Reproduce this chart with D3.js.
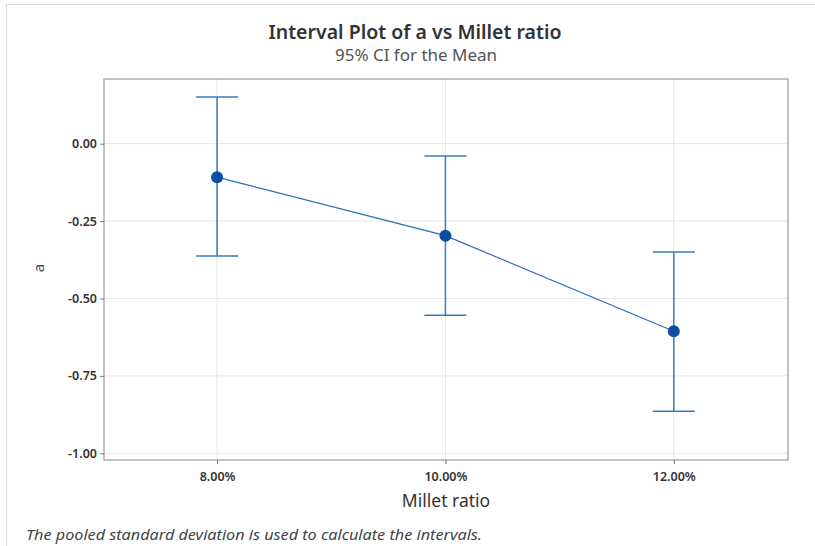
<!DOCTYPE html>
<html><head><meta charset="utf-8">
<script src="https://cdn.jsdelivr.net/npm/d3@7"></script>
<style>body{margin:0;background:#fff}svg{display:block}</style>
</head><body>
<script>
const categories = [8, 10, 12];
const categoryLabels = ["8.00%", "10.00%", "12.00%"];
const means = [-0.108, -0.297, -0.606];
const upper = [0.151, -0.040, -0.350];
const lower = [-0.363, -0.554, -0.864];
const yTicks = [0, -0.25, -0.5, -0.75, -1.0];

const W = 815, H = 546;
const font = "'Noto Sans', 'Open Sans', sans-serif";
const svg = d3.select("body").append("svg").attr("width", W).attr("height", H);

// outer border
svg.append("rect").attr("x", 6.5).attr("y", 4.5).attr("width", W + 10).attr("height", H + 10)
  .attr("fill", "none").attr("stroke", "#dcdcdc");

const L = 104, R = 788, T = 79, B = 460;
const x = d3.scaleLinear().domain([7.01, 13.0]).range([L, R]);
const y = d3.scaleLinear().domain([-1.0217, 0.209]).range([B, T]);

// gridlines
svg.append("g").selectAll("line").data(yTicks).join("line")
  .attr("x1", L).attr("x2", R).attr("y1", d => y(d)).attr("y2", d => y(d))
  .attr("stroke", "#e6e6e6").attr("stroke-width", 1);
svg.append("g").selectAll("line").data(categories).join("line")
  .attr("y1", T).attr("y2", B).attr("x1", d => x(d)).attr("x2", d => x(d))
  .attr("stroke", "#e6e6e6").attr("stroke-width", 1);

// frame
svg.append("rect").attr("x", L).attr("y", T).attr("width", R - L).attr("height", B - T)
  .attr("fill", "none").attr("stroke", "#9a9a9a").attr("stroke-width", 1.2);

// axes
const yAxis = d3.axisLeft(y).tickValues(yTicks).tickSize(4).tickPadding(3)
  .tickFormat(d => d3.format(".2f")(d).replace("\u2212", "-"));
const gy = svg.append("g").attr("transform", `translate(${L},0)`).call(yAxis);
gy.select(".domain").remove();
gy.selectAll("line").attr("stroke", "#777");
gy.selectAll("text").attr("font-family", font).attr("font-size", 12.5).attr("font-weight", 600).attr("fill", "#333");

const xAxis = d3.axisBottom(x).tickValues(categories).tickFormat((d, i) => categoryLabels[i]).tickSize(4).tickPadding(8);
const gx = svg.append("g").attr("transform", `translate(0,${B})`).call(xAxis);
gx.select(".domain").remove();
gx.selectAll("line").attr("stroke", "#777");
gx.selectAll("text").attr("font-family", font).attr("font-size", 12.5).attr("font-weight", 600).attr("fill", "#333");

const data = categories.map((c, i) => ({c, m: means[i], u: upper[i], l: lower[i]}));

// connect line
svg.append("path").datum(data)
  .attr("d", d3.line().x(d => x(d.c)).y(d => y(d.m)))
  .attr("fill", "none").attr("stroke", "#2a6cc0").attr("stroke-width", 1.2);

// intervals
const g = svg.append("g").selectAll("g").data(data).join("g");
g.append("line").attr("x1", d => x(d.c)).attr("x2", d => x(d.c)).attr("y1", d => y(d.u)).attr("y2", d => y(d.l))
  .attr("stroke", "#3a78c2").attr("stroke-width", 1.5);
g.append("line").attr("x1", d => x(d.c) - 21).attr("x2", d => x(d.c) + 21).attr("y1", d => y(d.u)).attr("y2", d => y(d.u))
  .attr("stroke", "#3a78c2").attr("stroke-width", 1.5);
g.append("line").attr("x1", d => x(d.c) - 21).attr("x2", d => x(d.c) + 21).attr("y1", d => y(d.l)).attr("y2", d => y(d.l))
  .attr("stroke", "#3a78c2").attr("stroke-width", 1.5);
g.append("circle").attr("cx", d => x(d.c)).attr("cy", d => y(d.m)).attr("r", 6).attr("fill", "#0b4ea2");

// titles
svg.append("text").attr("x", 415).attr("y", 39).attr("text-anchor", "middle")
  .attr("font-family", font).attr("font-size", 19.5).attr("font-weight", 600).attr("fill", "#333")
  .attr("textLength", 293).attr("lengthAdjust", "spacingAndGlyphs")
  .text("Interval Plot of a vs Millet ratio");
svg.append("text").attr("x", 416).attr("y", 61).attr("text-anchor", "middle")
  .attr("font-family", font).attr("font-size", 16).attr("fill", "#555")
  .attr("textLength", 162).attr("lengthAdjust", "spacingAndGlyphs")
  .text("95% CI for the Mean");
svg.append("text").attr("x", 446).attr("y", 507).attr("text-anchor", "middle")
  .attr("font-family", font).attr("font-size", 17.5).attr("fill", "#333")
  .text("Millet ratio");
svg.append("text").attr("transform", "translate(44,268) rotate(-90)").attr("text-anchor", "middle")
  .attr("font-family", font).attr("font-size", 15).attr("fill", "#444").text("a");
svg.append("text").attr("x", 26).attr("y", 540)
  .attr("font-family", font).attr("font-size", 14.5).attr("font-style", "italic").attr("fill", "#444")
  .attr("textLength", 456).attr("lengthAdjust", "spacingAndGlyphs")
  .text("The pooled standard deviation is used to calculate the intervals.");
</script>
</body></html>
